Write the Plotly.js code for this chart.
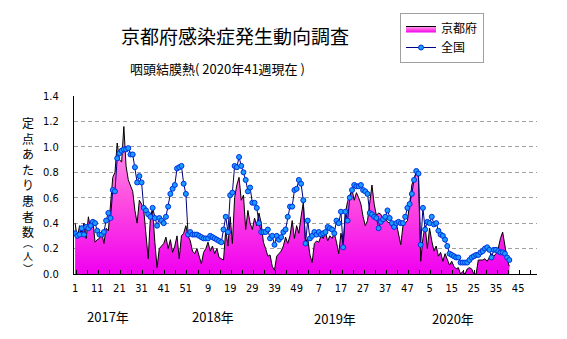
<!DOCTYPE html>
<html><head><meta charset="utf-8">
<script src="https://cdn.plot.ly/plotly-3.0.1.min.js"></script>
<style>html,body{margin:0;padding:0;background:#fff}#chart{width:567px;height:339px}</style>
</head><body><div id="chart"></div>
<script>
// ---- data ----
const seriesNames = ['京都府', '全国'];
const kyoto2017 = [0.40,0.28,0.38,0.33,0.40,0.28,0.45,0.35,0.43,0.25,
  0.27,0.28,0.33,0.24,0.36,0.34,0.55,0.76,0.80,1.03,
  0.90,0.88,1.16,0.85,0.74,0.70,0.65,0.50,0.40,0.58,
  0.55,0.50,0.30,0.12,0.45,0.50,0.25,0.05,0.20,0.22,
  0.24,0.29,0.20,0.27,0.17,0.22,0.30,0.12,0.30,0.32,
  0.38,0.30];
const kyoto2018 = [0.26,0.18,0.16,0.20,0.13,0.08,0.17,0.20,0.25,0.18,
  0.22,0.16,0.20,0.13,0.12,0.11,0.35,0.22,0.45,0.24,
  0.60,0.70,0.76,0.58,0.62,0.35,0.50,0.40,0.35,0.44,
  0.38,0.48,0.40,0.25,0.20,0.14,0.15,0.06,0.03,0.14,
  0.16,0.18,0.22,0.29,0.24,0.30,0.42,0.28,0.38,0.32,
  0.45,0.56];
const kyoto2019 = [0.25,0.28,0.15,0.09,0.24,0.26,0.25,0.30,0.28,0.33,
  0.26,0.30,0.28,0.32,0.25,0.16,0.32,0.24,0.48,0.57,
  0.62,0.66,0.58,0.64,0.60,0.55,0.45,0.38,0.42,0.55,
  0.70,0.55,0.46,0.48,0.47,0.43,0.44,0.41,0.40,0.37,
  0.38,0.40,0.30,0.23,0.38,0.40,0.42,0.55,0.70,0.75,
  0.80,0.76];
const kyoto2020 = [0.10,0.28,0.38,0.20,0.36,0.26,0.18,0.22,0.14,0.17,
  0.10,0.16,0.11,0.07,0.10,0.06,0.04,0.05,0.00,0.02,
  0.00,0.04,0.05,0.04,0.00,0.00,0.11,0.11,0.11,0.12,
  0.10,0.13,0.16,0.14,0.16,0.20,0.28,0.33,0.22,0.12,
  0.06];
const national2017 = [0.32,0.30,0.31,0.36,0.31,0.37,0.36,0.38,0.41,0.40,
  0.34,0.31,0.31,0.33,0.42,0.48,0.44,0.66,0.65,0.91,
  0.95,0.97,0.98,0.98,0.99,0.94,0.94,0.84,0.72,0.77,
  0.72,0.52,0.50,0.47,0.45,0.52,0.44,0.38,0.44,0.42,
  0.40,0.45,0.53,0.63,0.67,0.70,0.83,0.84,0.85,0.71,
  0.63,0.31];
const national2018 = [0.33,0.31,0.31,0.31,0.30,0.29,0.28,0.28,0.28,0.30,
  0.29,0.28,0.27,0.26,0.25,0.35,0.45,0.33,0.62,0.64,
  0.85,0.84,0.92,0.85,0.80,0.74,0.65,0.68,0.56,0.56,
  0.52,0.40,0.33,0.33,0.33,0.35,0.28,0.30,0.23,0.30,
  0.27,0.29,0.33,0.35,0.45,0.53,0.53,0.66,0.67,0.74,
  0.71,0.58];
const national2019 = [0.24,0.42,0.28,0.30,0.33,0.31,0.33,0.31,0.32,0.33,
  0.37,0.36,0.35,0.32,0.42,0.40,0.49,0.21,0.49,0.42,
  0.60,0.66,0.70,0.69,0.69,0.70,0.66,0.65,0.63,0.48,
  0.47,0.45,0.44,0.36,0.41,0.43,0.45,0.50,0.44,0.40,
  0.37,0.40,0.41,0.40,0.40,0.45,0.52,0.55,0.63,0.74,
  0.81,0.79];
const national2020 = [0.23,0.52,0.35,0.41,0.40,0.45,0.39,0.40,0.34,0.31,
  0.30,0.27,0.22,0.16,0.15,0.14,0.13,0.13,0.09,0.09,
  0.09,0.09,0.11,0.13,0.14,0.15,0.15,0.17,0.18,0.20,
  0.21,0.19,0.13,0.19,0.19,0.18,0.17,0.17,0.16,0.13,
  0.11];
const weeksPerYear = [52, 52, 52, 53];
const tickLabels = ['1','11','21','31','41','51','9','19','29','39','49','7','17','27','37','47','5','15','25','35','45'];
const yearLabels = ['2017年','2018年','2019年','2020年'];
const titleText = '京都府感染症発生動向調査';
const subtitleText = '咽頭結膜熱( 2020年41週現在 )';
const yTitleMain = ['定','点','あ','た','り','患','者','数'];
const yTitleUnit = ['︵','人','︶'];

// ---- build ----
const kyoto = [].concat(kyoto2017, kyoto2018, kyoto2019, kyoto2020);
const national = [].concat(national2017, national2018, national2019, national2020);
const totalWeeks = weeksPerYear.reduce((a, b) => a + b, 0);
const xk = kyoto.map((_, i) => i);
const xn = national.map((_, i) => i);
const tickVals = tickLabels.map((_, i) => i * 10);

const W = 567, H = 339;
const M = {l: 74, r: 30, t: 96, b: 65};
const PW = W - M.l - M.r, PH = H - M.t - M.b;
const px = x => (x - M.l) / PW;
const py = y => (H - M.b - y) / PH;

const cjk = "'Noto Sans CJK JP', sans-serif";
const narrow = "'Liberation Sans Narrow', 'DejaVu Sans Condensed', 'Noto Sans CJK JP', sans-serif";

const traces = [
  {
    x: xk, y: kyoto, name: seriesNames[0], type: 'scatter', mode: 'lines',
    line: {color: '#000000', width: 1},
    fill: 'tozeroy',
    fillgradient: {type: 'vertical', start: 0, stop: 1.2,
      colorscale: [[0, '#f000f0'], [0.5, '#ff50e0'], [1, '#ffa8ee']]},
    hoverinfo: 'skip'
  },
  {
    x: xn, y: national, name: seriesNames[1], type: 'scatter', mode: 'lines+markers',
    line: {color: '#000080', width: 1},
    marker: {symbol: 'circle', size: 5, color: '#1a9cff', line: {color: '#0030e0', width: 1}},
    hoverinfo: 'skip'
  }
];

const annotations = [];
annotations.push({xref: 'paper', yref: 'paper', x: px(128), y: py(68), xanchor: 'left', yanchor: 'middle',
  text: subtitleText, showarrow: false, font: {family: cjk, size: 13, color: '#000'}});
const yearX = [108, 213, 335, 453];
const yearY = [316, 316, 318, 318];
yearLabels.forEach((t, i) => annotations.push({xref: 'paper', yref: 'paper', x: px(yearX[i]), y: py(yearY[i]),
  xanchor: 'center', yanchor: 'middle', text: t, showarrow: false, font: {family: cjk, size: 13, color: '#000'}}));
annotations.push({xref: 'paper', yref: 'paper', x: px(28), y: py(177), xanchor: 'center', yanchor: 'middle',
  text: yTitleMain.join('<br>'), showarrow: false, borderpad: 0, font: {family: cjk, size: 12, color: '#000'}});
annotations.push({xref: 'paper', yref: 'paper', x: px(28), y: py(255), xanchor: 'center', yanchor: 'middle',
  text: yTitleUnit.join('<br>'), showarrow: false, borderpad: 0, font: {family: cjk, size: 10, color: '#000'}});

const layout = {
  width: W, height: H,
  margin: {l: M.l, r: M.r, t: M.t, b: M.b, pad: 0},
  paper_bgcolor: '#ffffff', plot_bgcolor: '#ffffff',
  title: {text: titleText, xref: 'container', x: 235 / W, xanchor: 'center', yref: 'container', y: 1 - 37 / H, yanchor: 'middle',
    font: {family: cjk, size: 19, color: '#000'}},
  showlegend: true,
  legend: {x: px(400), y: py(13), xanchor: 'left', yanchor: 'top', bgcolor: '#fff',
    bordercolor: '#a0a0a0', borderwidth: 1, font: {family: cjk, size: 12, color: '#000'},
    traceorder: 'normal', itemwidth: 30},
  xaxis: {
    range: [-0.5, totalWeeks - 0.5], showgrid: false, zeroline: false,
    showline: true, linecolor: '#000', linewidth: 1,
    tickmode: 'array', tickvals: tickVals, ticktext: tickLabels, ticks: '',
    tickfont: {family: narrow, size: 11, color: '#000'}, ticklabelstandoff: 4,
    minor: {tick0: 0.5, dtick: 5, ticks: 'inside', ticklen: 4, tickcolor: '#000', showgrid: false},
    fixedrange: true
  },
  yaxis: {
    range: [0, 1.4], dtick: 0.2, tick0: 0, tickformat: '.1f',
    showgrid: true, gridcolor: '#a0a0a0', griddash: '4px,3px', gridwidth: 1,
    zeroline: false, showline: true, linecolor: '#000', linewidth: 1, ticks: '',
    tickfont: {family: narrow, size: 11, color: '#000'}, ticklabelstandoff: 12,
    fixedrange: true
  },
  annotations: annotations
};

Plotly.newPlot('chart', traces, layout, {staticPlot: true, displayModeBar: false});
</script>
</body></html>
